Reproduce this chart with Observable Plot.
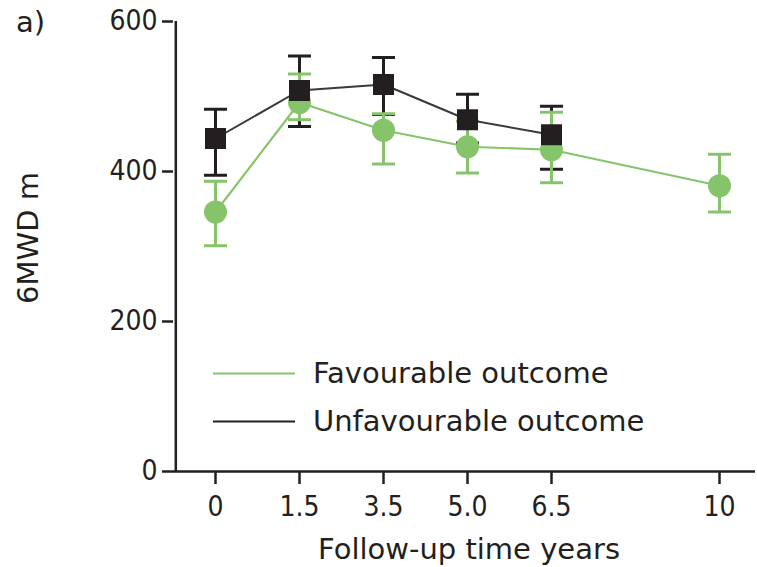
<!DOCTYPE html>
<html>
<head>
<meta charset="utf-8">
<script src="https://cdn.jsdelivr.net/npm/d3@7"></script>
<script src="https://cdn.jsdelivr.net/npm/@observablehq/plot@0.6"></script>
<style>
  html, body { margin: 0; padding: 0; background: #fff; }
  #wrap { position: relative; width: 757px; height: 567px; font-family: "DejaVu Sans", sans-serif; color: #231f20; }
  .lbl { position: absolute; font-size: 29px; line-height: 1; white-space: nowrap; }
  .leg { position: absolute; left: 213px; display: flex; align-items: center; font-size: 29px; line-height: 1; white-space: nowrap; }
  .leg .sw { width: 82px; height: 2px; margin-right: 18px; }
</style>
</head>
<body>
<div id="wrap"></div>
<script>
// Categories (follow-up time, years) and one empty slot shown in the axis spacing
const years = ["0", "1.5", "3.5", "5.0", "6.5", "10"];
const slots = ["0", "1.5", "3.5", "5.0", "6.5", "8.25", "10"];
const yTicks = [0, 200, 400, 600];

// Favourable outcome (green circles)
const favYears = ["0", "1.5", "3.5", "5.0", "6.5", "10"];
const favMean  = [346, 492, 455, 433, 429, 381];
const favLow   = [301, 469, 410, 398, 385, 346];
const favHigh  = [387, 530, 477, 467, 479, 423];

// Unfavourable outcome (black squares)
const unfYears = ["0", "1.5", "3.5", "5.0", "6.5"];
const unfMean  = [444, 508, 516, 469, 449];
const unfLow   = [395, 460, 476, 438, 403];
const unfHigh  = [483, 554, 552, 503, 487];

const GREEN = "#86c46b";
const BLACK = "#231f20";

const fav = favYears.map((t, i) => ({t, m: favMean[i], lo: favLow[i], hi: favHigh[i]}));
const unf = unfYears.map((t, i) => ({t, m: unfMean[i], lo: unfLow[i], hi: unfHigh[i]}));

const cap = { draw(ctx, size) { const w = Math.sqrt(size / Math.PI); ctx.moveTo(-w, 0); ctx.lineTo(w, 0); } };

function errorMarks(data, color) {
  return [
    Plot.ruleX(data, {x: "t", y1: "lo", y2: "hi", stroke: color, strokeWidth: 3}),
    Plot.dot(data, {x: "t", y: "lo", symbol: cap, r: 11.5, stroke: color, strokeWidth: 3, fill: "none"}),
    Plot.dot(data, {x: "t", y: "hi", symbol: cap, r: 11.5, stroke: color, strokeWidth: 3, fill: "none"})
  ];
}

const ML = 173, XR = [212.7, 721.7];

const chart = Plot.plot({
  width: 757,
  height: 567,
  marginLeft: ML,
  marginRight: 2,
  marginTop: 21,
  marginBottom: 96,
  style: {fontFamily: "'DejaVu Sans Condensed', 'DejaVu Sans', sans-serif", fontSize: "28px", color: BLACK, background: "#fff"},
  x: {type: "point", domain: slots, range: XR, padding: 0, label: null},
  y: {domain: [0, 600], label: null},
  marks: [
    Plot.ruleY([0], {stroke: BLACK, strokeWidth: 2.5}),
    Plot.ruleX([slots[0]], {y1: 0, y2: 600, dx: ML - XR[0], stroke: BLACK, strokeWidth: 2.5}),
    Plot.axisY({ticks: yTicks, tickSize: 11, tickPadding: 5, strokeWidth: 2.5, label: null, fontSize: 28}),
    Plot.axisX({ticks: years, tickSize: 13, tickPadding: 12, strokeWidth: 2.5, label: null, fontSize: 28}),
    ...errorMarks(unf, BLACK),
    ...errorMarks(fav, GREEN),
    Plot.line(fav, {x: "t", y: "m", stroke: GREEN, strokeWidth: 2.2}),
    Plot.dot(fav, {x: "t", y: "m", r: 11.5, fill: GREEN, stroke: "none"}),
    Plot.line(unf, {x: "t", y: "m", stroke: "#3a3a3a", strokeWidth: 2}),
    Plot.dot(unf, {x: "t", y: "m", symbol: "square", r: 11.85, fill: BLACK, stroke: "none"})
  ]
});

const wrap = document.getElementById("wrap");
wrap.appendChild(chart);

function addText(txt, css) {
  const d = document.createElement("div");
  d.className = "lbl";
  d.textContent = txt;
  Object.assign(d.style, css);
  wrap.appendChild(d);
  return d;
}
addText("a)", {left: "16px", top: "8px"});
addText("Follow-up time years", {left: "469px", top: "549px", transform: "translate(-50%, -50%)"});
addText("6MWD m", {left: "28px", top: "238px", transform: "translate(-50%, -50%) rotate(-90deg)"});

function addLegend(label, color, top) {
  const d = document.createElement("div");
  d.className = "leg";
  d.style.top = top + "px";
  d.style.transform = "translateY(-50%)";
  const sw = document.createElement("div");
  sw.className = "sw";
  sw.style.background = color;
  const t = document.createElement("span");
  t.textContent = label;
  d.appendChild(sw); d.appendChild(t);
  wrap.appendChild(d);
}
addLegend("Favourable outcome", GREEN, 373);
addLegend("Unfavourable outcome", BLACK, 421);
</script>
</body>
</html>
